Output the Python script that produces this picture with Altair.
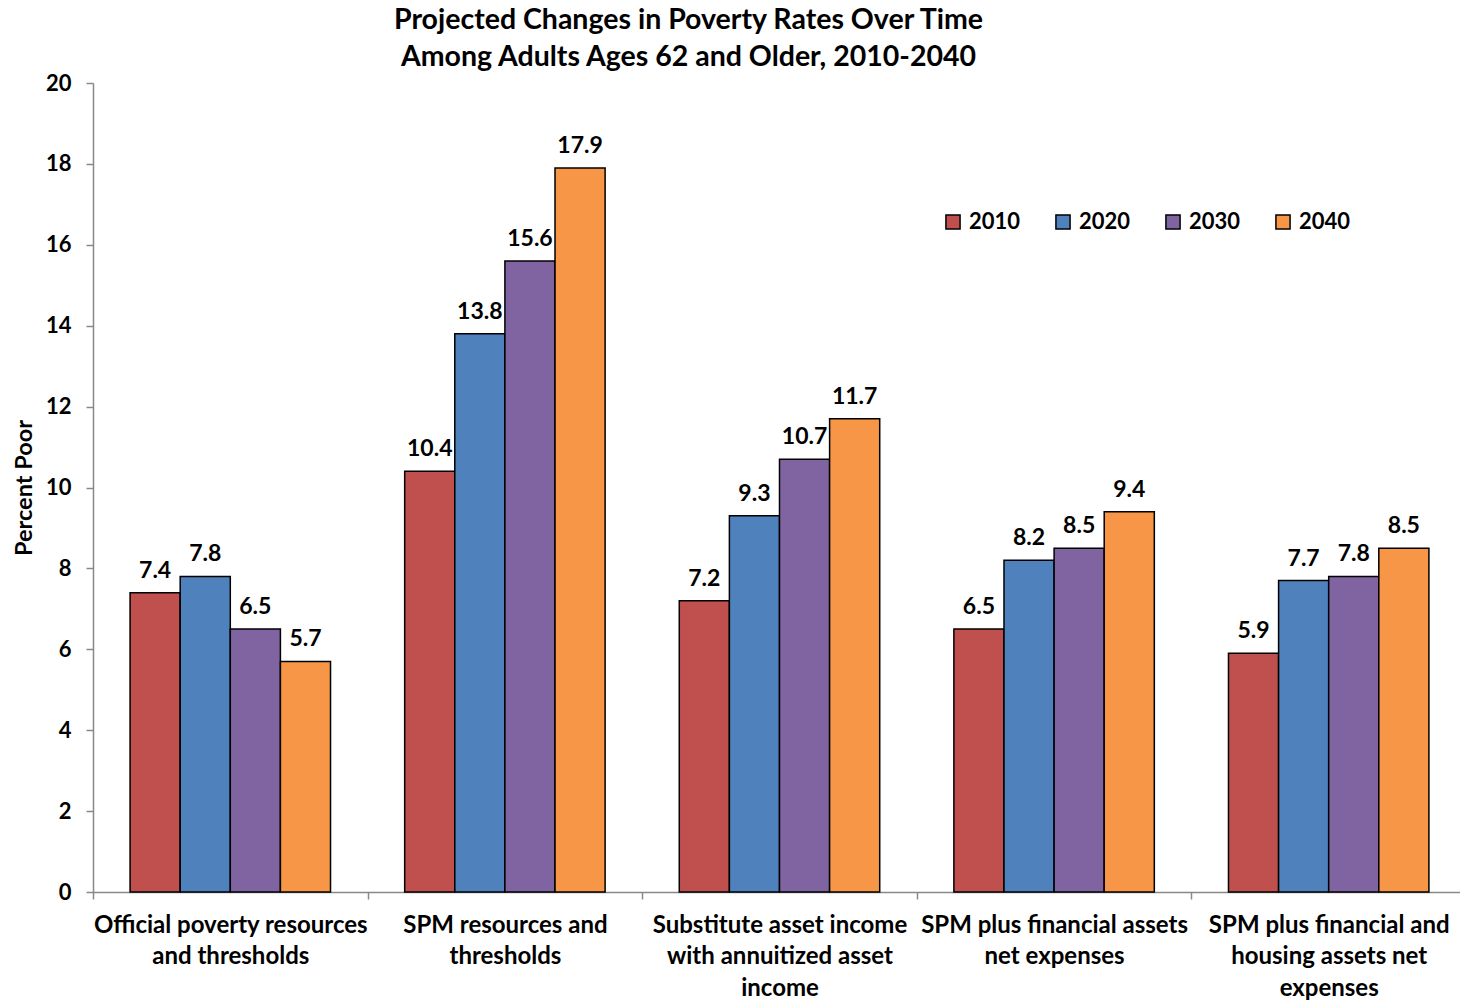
import json
import altair as alt
import pandas as pd

# Poverty measures (x-axis groups) and projection years (series)
categories = [
    "Official poverty resources and thresholds",
    "SPM resources and thresholds",
    "Substitute asset income with annuitized asset income",
    "SPM plus financial assets net expenses",
    "SPM plus financial and housing assets net expenses",
]
category_lines = [
    ["Official poverty resources", "and thresholds"],
    ["SPM resources and", "thresholds"],
    ["Substitute asset income", "with annuitized asset", "income"],
    ["SPM plus financial assets", "net expenses"],
    ["SPM plus financial and", "housing assets net", "expenses"],
]
years = ["2010", "2020", "2030", "2040"]
colors = ["#C0504D", "#4F81BD", "#8064A2", "#F79646"]

# Percent poor, one list per year, in category order
rate_2010 = [7.4, 10.4, 7.2, 6.5, 5.9]
rate_2020 = [7.8, 13.8, 9.3, 8.2, 7.7]
rate_2030 = [6.5, 15.6, 10.7, 8.5, 7.8]
rate_2040 = [5.7, 17.9, 11.7, 9.4, 8.5]

series = dict(zip(years, [rate_2010, rate_2020, rate_2030, rate_2040]))
rows = []
for yr, vals in series.items():
    for cat, v in zip(categories, vals):
        rows.append({"measure": cat, "year": yr, "rate": v})
df = pd.DataFrame(rows)

FONT = "Lato"
AXIS_GRAY = "#898989"
label_map = json.dumps(dict(zip(categories, category_lines)))

x_enc = alt.X(
    "measure:N",
    sort=categories,
    title=None,
    scale=alt.Scale(paddingInner=0, paddingOuter=0, range=[0, 1373]),
    axis=alt.Axis(
        labelExpr=f"{label_map}[datum.label]",
        labelAngle=0,
        labelFont=FONT,
        labelFontSize=24,
        labelFontWeight="bold",
        labelColor="black",
        labelLineHeight=31.5,
        labelPadding=14,
        labelLimit=400,
        tickBand="extent",
        tickSize=7,
        tickColor=AXIS_GRAY,
        domainColor=AXIS_GRAY,
        domainWidth=1.5,
        tickWidth=1.5,
    ),
)
xoff_enc = alt.XOffset(
    "year:N", sort=years, scale=alt.Scale(paddingOuter=0.74, paddingInner=0)
)
y_enc = alt.Y(
    "rate:Q",
    title="Percent Poor",
    scale=alt.Scale(domain=[0, 20], nice=False),
    axis=alt.Axis(
        values=list(range(0, 21, 2)),
        grid=False,
        labelFont=FONT,
        labelFontSize=22,
        labelFontWeight="bold",
        labelColor="black",
        labelPadding=15,
        tickSize=7,
        tickColor=AXIS_GRAY,
        domainColor=AXIS_GRAY,
        domainWidth=1.5,
        tickWidth=1.5,
        titleFont=FONT,
        titleFontSize=23.5,
        titleFontWeight="bold",
        titleColor="black",
        titlePadding=9,
    ),
)

bars = alt.Chart(df).mark_bar(stroke="black", strokeWidth=1.5).encode(
    x=x_enc,
    xOffset=xoff_enc,
    y=y_enc,
    color=alt.Color(
        "year:N",
        sort=years,
        scale=alt.Scale(domain=years, range=colors),
        legend=alt.Legend(
            title=None,
            orient="none",
            legendX=849,
            legendY=128,
            direction="horizontal",
            symbolType="square",
            symbolSize=200,
            symbolStrokeColor="black",
            symbolStrokeWidth=1.5,
            symbolOpacity=1,
            labelFont=FONT,
            labelFontSize=22,
            labelFontWeight="bold",
            labelColor="black",
            labelOffset=5,
            columnPadding=31,
        ),
    ),
)

labels = alt.Chart(df).mark_text(
    font=FONT,
    fontSize=23,
    fontWeight="bold",
    color="black",
    baseline="alphabetic",
    dy=-15,
).encode(
    x=alt.X("measure:N", sort=categories),
    xOffset=alt.XOffset("year:N", sort=years),
    y="rate:Q",
    text=alt.Text("rate:Q", format=".1f"),
)

chart = (
    alt.layer(bars, labels)
    .properties(
        width=1367,
        height=809,
        background="white",
        title=alt.TitleParams(
            text=[
                "Projected Changes in Poverty Rates Over Time",
                "Among Adults Ages 62 and Older, 2010-2040",
            ],
            font=FONT,
            fontSize=28.5,
            fontWeight="bold",
            color="black",
            lineHeight=37,
            anchor="middle",
            offset=1,
            dx=-88,
        ),
        autosize=alt.AutoSizeParams(type="none"),
        padding={"left": 93, "top": 83, "right": 0, "bottom": 108},
    )
    .configure_view(stroke="transparent", strokeWidth=0)
)

chart.save("out.html", embed_options={"renderer": "svg", "actions": False})
